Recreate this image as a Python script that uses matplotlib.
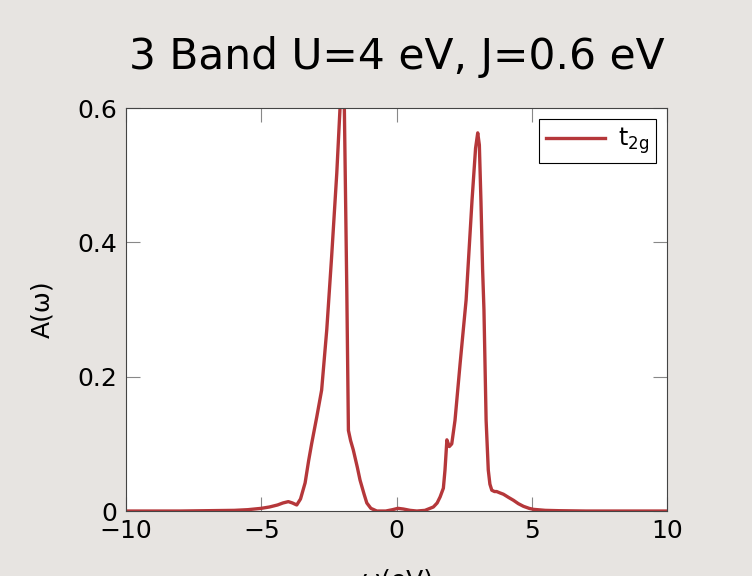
import numpy as np
import matplotlib
matplotlib.use('Agg')
import matplotlib.pyplot as plt
from matplotlib.ticker import FuncFormatter

# Spectral function
omega = [-10.0, -8.0, -7.0, -6.0, -5.5, -5.0, -4.7, -4.4, -4.2, -4.0, -3.85, -3.69,
         -3.55, -3.38, -3.25, -3.14, -2.95, -2.77, -2.58, -2.40, -2.21, -2.09, -2.01,
         -1.93, -1.88, -1.84, -1.78, -1.70, -1.60, -1.45, -1.35, -1.20, -1.10, -0.95,
         -0.73, -0.40, -0.15, 0.05, 0.25, 0.50, 0.75, 1.05, 1.36, 1.50, 1.61, 1.73,
         1.79, 1.86, 1.95, 2.04, 2.16, 2.35, 2.57, 2.79, 2.92, 3.00, 3.06, 3.12, 3.18,
         3.23, 3.31, 3.39, 3.45, 3.52, 3.62, 3.70, 3.82, 3.95, 4.15, 4.32, 4.50, 4.69,
         4.90, 5.06, 5.50, 6.00, 7.00, 8.00, 10.0]
spectral = [0.0, 0.0, 0.0005, 0.001, 0.002, 0.004, 0.006, 0.009, 0.012, 0.014, 0.012,
            0.009, 0.018, 0.042, 0.075, 0.10, 0.14, 0.18, 0.27, 0.379, 0.503, 0.60,
            0.66, 0.60, 0.45, 0.33, 0.12, 0.105, 0.091, 0.065, 0.046, 0.025, 0.012,
            0.004, 0.0, 0.0, 0.002, 0.004, 0.003, 0.001, 0.0, 0.001, 0.006, 0.012,
            0.021, 0.034, 0.061, 0.106, 0.096, 0.10, 0.135, 0.22, 0.314, 0.463, 0.54,
            0.563, 0.545, 0.46, 0.36, 0.30, 0.135, 0.061, 0.040, 0.031, 0.029, 0.029,
            0.027, 0.025, 0.020, 0.016, 0.011, 0.007, 0.004, 0.0025, 0.001, 0.0005,
            0.0, 0.0, 0.0]

line_color = '#b5373a'
bg = '#e7e4e1'

fig = plt.figure(figsize=(7.52, 5.76), dpi=100, facecolor=bg)
ax = fig.add_axes([0.1676, 0.1128, 0.7195, 0.6997])
ax.plot(omega, spectral, color=line_color, lw=2.4, label='t$\\mathregular{_{2g}}$')

ax.set_xlim(-10, 10)
ax.set_ylim(0, 0.6)
ax.set_xticks([-10, -5, 0, 5, 10])
ax.set_yticks([0, 0.2, 0.4, 0.6])
fmt = FuncFormatter(lambda v, p: ('%g' % v).replace('-', '\u2212'))
ax.xaxis.set_major_formatter(fmt)
ax.yaxis.set_major_formatter(fmt)
ax.tick_params(direction='in', length=10, width=0.8, color='#888888',
               top=True, right=True, labelsize=18, pad=6)
for s in ax.spines.values():
    s.set_color('#444444')
    s.set_linewidth(0.8)

ax.set_title('3 Band U=4 eV, J=0.6 eV', fontsize=30.5, pad=28)
ax.set_ylabel('A(\u03c9)', fontsize=18, labelpad=17)
ax.set_xlabel('\u03c9(eV)', fontsize=18, labelpad=18)

leg = ax.legend(loc='upper right', fontsize=17, fancybox=False, framealpha=1,
                borderaxespad=0.45, handlelength=2.5, handletextpad=0.55,
                borderpad=0.3)
leg.get_frame().set_edgecolor('black')
leg.get_frame().set_linewidth(0.8)

fig.savefig('out.png', dpi=100, facecolor=bg)
